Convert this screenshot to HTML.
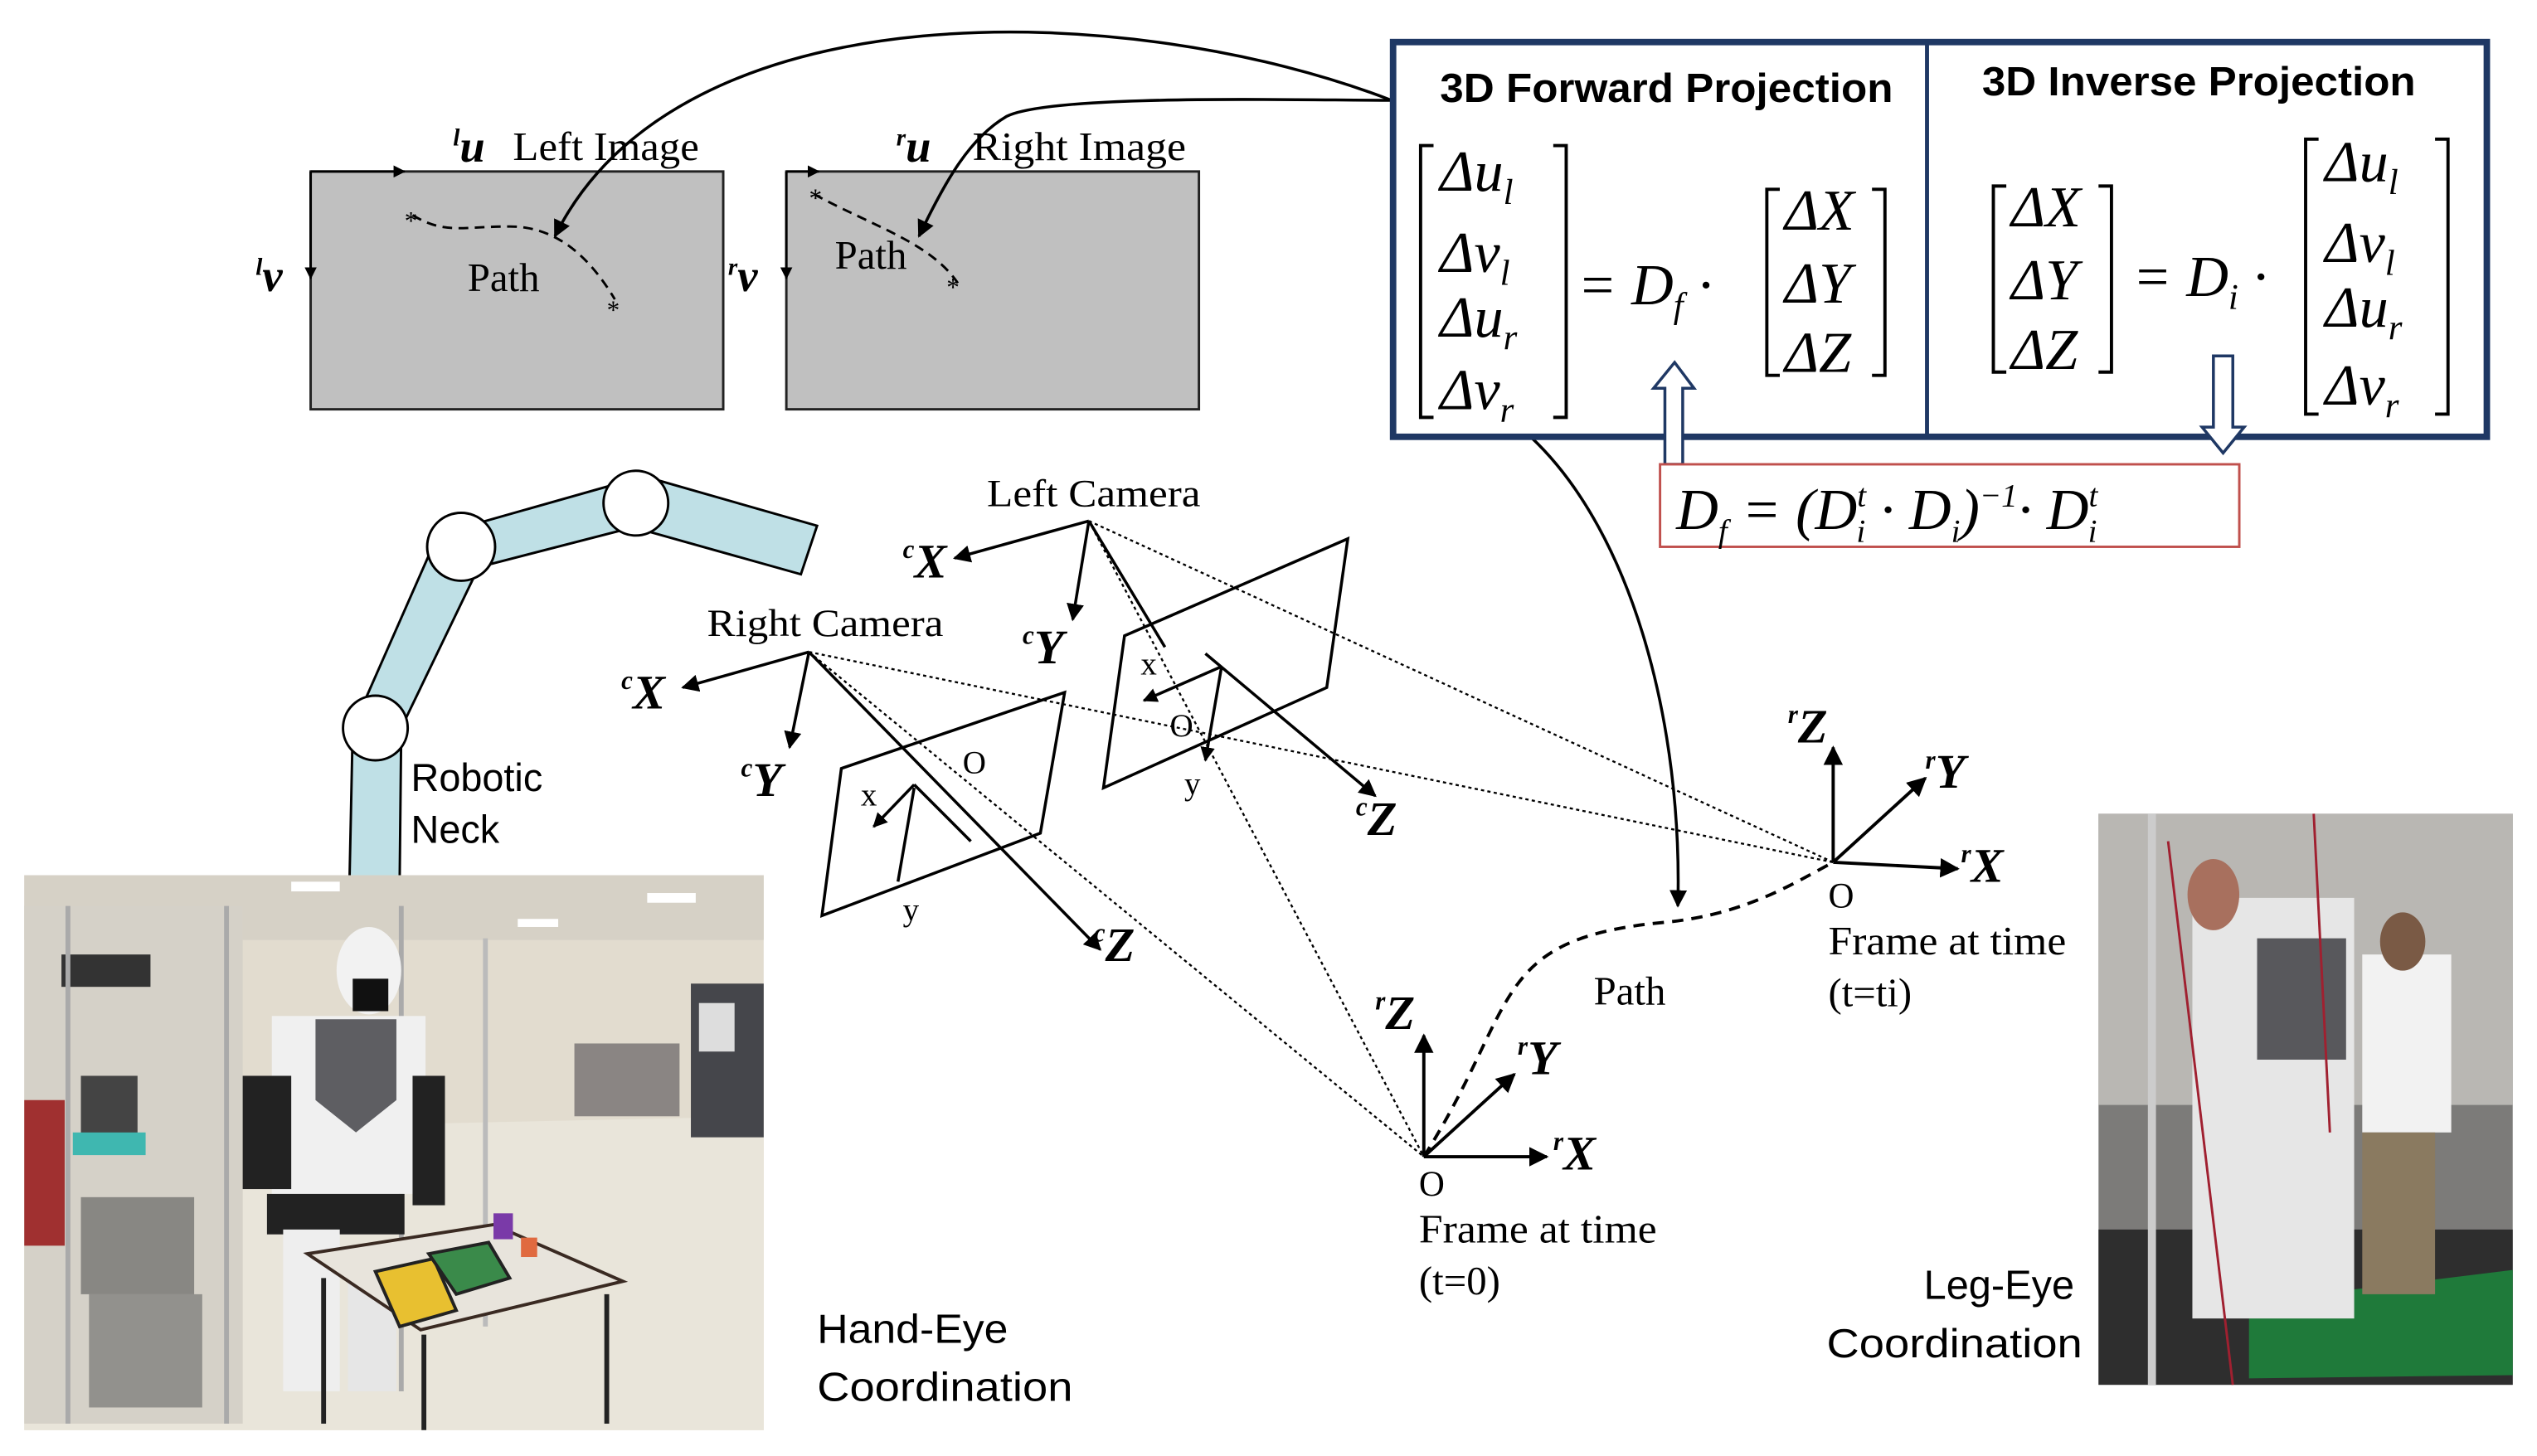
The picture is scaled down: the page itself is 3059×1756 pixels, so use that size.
<!DOCTYPE html>
<html><head><meta charset="utf-8"><style>
html,body{margin:0;padding:0;background:#fff;}
svg{display:block}
.tr{font-family:"Liberation Serif",serif;}
.sa{font-family:"Liberation Sans","DejaVu Sans",sans-serif;}
</style></head><body>
<svg width="3059" height="1756" viewBox="0 0 1568 900" preserveAspectRatio="none" xmlns="http://www.w3.org/2000/svg">
<defs>
<marker id="ah" viewBox="0 0 10 10" refX="9" refY="5" markerWidth="6" markerHeight="6" orient="auto"><path d="M0,0 L10,5 L0,10 z" fill="#000"/></marker>
<marker id="ah2" viewBox="0 0 10 10" refX="9" refY="5" markerWidth="5" markerHeight="5" orient="auto"><path d="M0,0 L10,5 L0,10 z" fill="#000"/></marker>
</defs>

<!-- image planes -->
<rect x="192" y="106" width="255" height="147" fill="#c0c0c0" stroke="#222" stroke-width="1.5"/>
<rect x="486" y="106" width="255" height="147" fill="#c0c0c0" stroke="#222" stroke-width="1.5"/>
<line x1="192" y1="106" x2="250" y2="106" stroke="#000" stroke-width="1.5" marker-end="url(#ah2)"/>
<line x1="192" y1="106" x2="192" y2="172" stroke="#000" stroke-width="1.5" marker-end="url(#ah2)"/>
<line x1="486" y1="106" x2="506" y2="106" stroke="#000" stroke-width="1.5" marker-end="url(#ah2)"/>
<line x1="486" y1="106" x2="486" y2="172" stroke="#000" stroke-width="1.5" marker-end="url(#ah2)"/>
<text class="tr" x="280" y="100" font-size="28" font-weight="bold" font-style="italic"><tspan font-size="15" dy="-10">l</tspan><tspan dy="10">u</tspan></text>
<text class="tr" x="317" y="99" font-size="25" textLength="115" lengthAdjust="spacingAndGlyphs">Left Image</text>
<text class="tr" x="554" y="100" font-size="28" font-weight="bold" font-style="italic"><tspan font-size="15" dy="-10">r</tspan><tspan dy="10">u</tspan></text>
<text class="tr" x="601" y="99" font-size="25" textLength="132" lengthAdjust="spacingAndGlyphs">Right Image</text>
<text class="tr" x="158" y="180" font-size="28" font-weight="bold" font-style="italic"><tspan font-size="15" dy="-10">l</tspan><tspan dy="10">v</tspan></text>
<text class="tr" x="450" y="180" font-size="28" font-weight="bold" font-style="italic"><tspan font-size="15" dy="-10">r</tspan><tspan dy="10">v</tspan></text>
<path d="M255,133 C275,145 285,140 315,140 C345,140 365,160 380,185" fill="none" stroke="#000" stroke-width="1.5" stroke-dasharray="6,4"/>
<text class="tr" x="250" y="142" font-size="16">*</text>
<text class="tr" x="375" y="197" font-size="16">*</text>
<text class="tr" x="289" y="180" font-size="25">Path</text>
<path d="M503,120 C540,140 575,150 592,175" fill="none" stroke="#000" stroke-width="1.5" stroke-dasharray="6,4"/>
<text class="tr" x="500" y="128" font-size="16">*</text>
<text class="tr" x="585" y="183" font-size="16">*</text>
<text class="tr" x="516" y="166" font-size="25">Path</text>

<!-- curves from box -->
<path d="M860,62 C700,0 420,-10 343,146" fill="none" stroke="#000" stroke-width="1.8" marker-end="url(#ah)"/>
<path d="M860,62 C800,62 650,58 622,72 C600,85 585,110 568,146" fill="none" stroke="#000" stroke-width="1.8" marker-end="url(#ah)"/>
<path d="M946,270 C1010,330 1040,450 1037,560" fill="none" stroke="#000" stroke-width="1.8" marker-end="url(#ah)"/>

<!-- equation box -->
<rect x="861" y="26" width="676" height="244" fill="#fff" stroke="#1f3864" stroke-width="4"/>
<line x1="1191" y1="26" x2="1191" y2="270" stroke="#1f3864" stroke-width="2.5"/>
<text class="sa" x="890" y="63" font-size="25" font-weight="bold" textLength="280" lengthAdjust="spacingAndGlyphs">3D Forward Projection</text>
<text class="sa" x="1225" y="59" font-size="25" font-weight="bold" textLength="268" lengthAdjust="spacingAndGlyphs">3D Inverse Projection</text>
<g font-family="Liberation Serif,serif" font-style="italic" font-size="36">
<path d="M886,90 h-8 v168 h8 M960,90 h8 v168 h-8" fill="none" stroke="#000" stroke-width="2"/>
<text x="890" y="118">Δu<tspan font-size="22" dy="8">l</tspan></text>
<text x="890" y="168">Δv<tspan font-size="22" dy="8">l</tspan></text>
<text x="890" y="208">Δu<tspan font-size="22" dy="8">r</tspan></text>
<text x="890" y="253">Δv<tspan font-size="22" dy="8">r</tspan></text>
<text x="975" y="188">= D<tspan font-size="22" dy="8">f</tspan><tspan dy="-8"> ·</tspan></text>
<path d="M1100,117 h-8 v115 h8 M1157,117 h8 v115 h-8" fill="none" stroke="#000" stroke-width="2"/>
<text x="1103" y="142">ΔX</text>
<text x="1103" y="187">ΔY</text>
<text x="1103" y="230">ΔZ</text>
<path d="M1240,115 h-8 v115 h8 M1297,115 h8 v115 h-8" fill="none" stroke="#000" stroke-width="2"/>
<text x="1243" y="140">ΔX</text>
<text x="1243" y="185">ΔY</text>
<text x="1243" y="228">ΔZ</text>
<text x="1318" y="183">= D<tspan font-size="22" dy="8">i</tspan><tspan dy="-8"> ·</tspan></text>
<path d="M1433,86 h-8 v170 h8 M1505,86 h8 v170 h-8" fill="none" stroke="#000" stroke-width="2"/>
<text x="1437" y="112">Δu<tspan font-size="22" dy="8">l</tspan></text>
<text x="1437" y="162">Δv<tspan font-size="22" dy="8">l</tspan></text>
<text x="1437" y="202">Δu<tspan font-size="22" dy="8">r</tspan></text>
<text x="1437" y="250">Δv<tspan font-size="22" dy="8">r</tspan></text>
</g>
<!-- hollow arrows -->
<path d="M1029,287 V240 H1022 L1035,224 L1047,240 H1040 V287 Z" fill="#fff" stroke="#1f3864" stroke-width="1.8"/>
<path d="M1368,220 V264 H1361 L1374,280 L1387,264 H1380 V220 Z" fill="#fff" stroke="#1f3864" stroke-width="1.8"/>
<rect x="1026" y="287" width="358" height="51" fill="#fff" stroke="#c0504d" stroke-width="1.5"/>
<text x="1036" y="327" font-family="Liberation Serif,serif" font-style="italic" font-size="36">D<tspan font-size="20" dy="8">f</tspan><tspan dy="-8"> = (D</tspan><tspan font-size="20" dy="-14">t</tspan><tspan font-size="20" dx="-6" dy="22">i</tspan><tspan dy="-8"> · D</tspan><tspan font-size="20" dy="8">i</tspan><tspan dy="-8">)</tspan><tspan font-size="20" dy="-14">−1</tspan><tspan dy="14">· D</tspan><tspan font-size="20" dy="-14">t</tspan><tspan font-size="20" dx="-6" dy="22">i</tspan></text>

<!-- robotic arm -->
<g fill="#bfe0e6" stroke="#000" stroke-width="1.5">
<polygon points="216,545 247,545 248,450 218,450"/>
<polygon points="218,450 247,452 300,342 270,332"/>
<polygon points="272,330 298,350 395,325 385,298"/>
<polygon points="400,295 388,325 495,355 505,325"/>
</g>
<g fill="#fff" stroke="#000" stroke-width="1.5">
<circle cx="232" cy="450" r="20"/><circle cx="285" cy="338" r="21"/><circle cx="393" cy="311" r="20"/>
</g>
<text class="sa" x="254" y="489" font-size="24">Robotic</text>
<text class="sa" x="254" y="521" font-size="24">Neck</text>

<!-- cameras -->
<g stroke="#000" stroke-width="1.8" fill="none">
<line x1="500" y1="403" x2="422" y2="425" marker-end="url(#ah)"/>
<line x1="500" y1="403" x2="488" y2="462" marker-end="url(#ah)"/>
<line x1="500" y1="403" x2="680" y2="587" marker-end="url(#ah)"/>
<line x1="673" y1="322" x2="590" y2="345" marker-end="url(#ah)"/>
<line x1="673" y1="322" x2="663" y2="383" marker-end="url(#ah)"/>
<line x1="673" y1="322" x2="720" y2="400"/>
<line x1="745" y1="404" x2="850" y2="492" marker-end="url(#ah)"/>
<polygon points="520,475 658,428 643,515 508,566"/>
<polygon points="695,393 833,333 820,425 682,487"/>
<polyline points="565,485 540,511" marker-end="url(#ah2)"/>
<polyline points="565,487 555,545"/>
<line x1="565" y1="485" x2="600" y2="520"/>
<polyline points="755,412 707,433" marker-end="url(#ah2)"/>
<line x1="755" y1="412" x2="745" y2="470" marker-end="url(#ah2)"/>
</g>
<g stroke="#000" stroke-width="1.2" stroke-dasharray="2,2" fill="none">
<line x1="500" y1="403" x2="1133" y2="533"/>
<line x1="500" y1="403" x2="880" y2="715"/>
<line x1="673" y1="322" x2="1133" y2="533"/>
<line x1="673" y1="322" x2="880" y2="715"/>
</g>
<g class="tr">
<text x="610" y="313" font-size="24" textLength="132" lengthAdjust="spacingAndGlyphs">Left Camera</text>
<text x="437" y="393" font-size="24" textLength="146" lengthAdjust="spacingAndGlyphs">Right Camera</text>
<text x="558" y="357" font-size="30" font-weight="bold" font-style="italic"><tspan font-size="16" dy="-12">c</tspan><tspan dy="12">X</tspan></text>
<text x="384" y="438" font-size="30" font-weight="bold" font-style="italic"><tspan font-size="16" dy="-12">c</tspan><tspan dy="12">X</tspan></text>
<text x="632" y="410" font-size="30" font-weight="bold" font-style="italic"><tspan font-size="16" dy="-12">c</tspan><tspan dy="12">Y</tspan></text>
<text x="458" y="492" font-size="30" font-weight="bold" font-style="italic"><tspan font-size="16" dy="-12">c</tspan><tspan dy="12">Y</tspan></text>
<text x="838" y="516" font-size="30" font-weight="bold" font-style="italic"><tspan font-size="16" dy="-12">c</tspan><tspan dy="12">Z</tspan></text>
<text x="676" y="594" font-size="30" font-weight="bold" font-style="italic"><tspan font-size="16" dy="-12">c</tspan><tspan dy="12">Z</tspan></text>
<text x="532" y="498" font-size="20">x</text><text x="558" y="569" font-size="20">y</text><text x="595" y="478" font-size="20">O</text>
<text x="705" y="417" font-size="20">x</text><text x="732" y="491" font-size="20">y</text><text x="723" y="455" font-size="20">O</text>
</g>

<!-- world frames -->
<g stroke="#000" stroke-width="2" fill="none">
<line x1="880" y1="715" x2="880" y2="640" marker-end="url(#ah)"/>
<line x1="880" y1="715" x2="936" y2="664" marker-end="url(#ah)"/>
<line x1="880" y1="715" x2="956" y2="715" marker-end="url(#ah)"/>
<line x1="1133" y1="533" x2="1133" y2="462" marker-end="url(#ah)"/>
<line x1="1133" y1="533" x2="1190" y2="481" marker-end="url(#ah)"/>
<line x1="1133" y1="533" x2="1210" y2="537" marker-end="url(#ah)"/>
<path d="M880,715 C940,620 920,580 1030,570 C1080,565 1110,545 1133,533" stroke-dasharray="7,5"/>
</g>
<g class="tr">
<text x="850" y="636" font-size="30" font-weight="bold" font-style="italic"><tspan font-size="16" dy="-12">r</tspan><tspan dy="12">Z</tspan></text>
<text x="938" y="664" font-size="30" font-weight="bold" font-style="italic"><tspan font-size="16" dy="-12">r</tspan><tspan dy="12">Y</tspan></text>
<text x="960" y="723" font-size="30" font-weight="bold" font-style="italic"><tspan font-size="16" dy="-12">r</tspan><tspan dy="12">X</tspan></text>
<text x="1105" y="459" font-size="30" font-weight="bold" font-style="italic"><tspan font-size="16" dy="-12">r</tspan><tspan dy="12">Z</tspan></text>
<text x="1190" y="487" font-size="30" font-weight="bold" font-style="italic"><tspan font-size="16" dy="-12">r</tspan><tspan dy="12">Y</tspan></text>
<text x="1212" y="545" font-size="30" font-weight="bold" font-style="italic"><tspan font-size="16" dy="-12">r</tspan><tspan dy="12">X</tspan></text>
<text x="877" y="739" font-size="22">O</text>
<text x="877" y="768" font-size="25" textLength="147" lengthAdjust="spacingAndGlyphs">Frame at time</text>
<text x="877" y="800" font-size="25">(t=0)</text>
<text x="1130" y="561" font-size="22">O</text>
<text x="1130" y="590" font-size="25" textLength="147" lengthAdjust="spacingAndGlyphs">Frame at time</text>
<text x="1130" y="622" font-size="25">(t=ti)</text>
<text x="985" y="621" font-size="25">Path</text>
</g>

<!-- left photo -->
<g>
<rect x="15" y="541" width="457" height="343" fill="#e2dccf"/>
<rect x="15" y="541" width="457" height="40" fill="#d6d1c6"/>
<rect x="180" y="545" width="30" height="6" fill="#fff"/><rect x="400" y="552" width="30" height="6" fill="#fff"/><rect x="320" y="568" width="25" height="5" fill="#fff"/>
<polygon points="15,700 472,690 472,884 15,884" fill="#e9e5da"/>
<rect x="15" y="560" width="135" height="320" fill="#d5d1c8"/>
<rect x="15" y="680" width="25" height="90" fill="#a03030"/>
<rect x="38" y="590" width="55" height="20" fill="#333"/>
<rect x="50" y="665" width="35" height="40" fill="#444"/>
<rect x="45" y="700" width="45" height="14" fill="#3fb7b0"/>
<rect x="50" y="740" width="70" height="60" fill="#555" opacity="0.6"/>
<rect x="55" y="800" width="70" height="70" fill="#666" opacity="0.6"/>
<line x1="42" y1="560" x2="42" y2="880" stroke="#aaa" stroke-width="3"/>
<line x1="140" y1="560" x2="140" y2="880" stroke="#aaa" stroke-width="3"/>
<line x1="248" y1="560" x2="248" y2="860" stroke="#aaa" stroke-width="3"/>
<line x1="300" y1="580" x2="300" y2="820" stroke="#bbb" stroke-width="3"/>
<rect x="355" y="645" width="65" height="45" fill="#8a8583"/>
<rect x="427" y="608" width="45" height="95" fill="#45464b"/>
<rect x="432" y="620" width="22" height="30" fill="#ddd"/>
<ellipse cx="228" cy="600" rx="20" ry="27" fill="#f2f2f2"/>
<path d="M218,605 h22 v20 h-22z" fill="#111"/>
<rect x="168" y="628" width="95" height="110" fill="#f0f0f0"/>
<path d="M195,630 h50 v50 l-25,20 l-25,-20z" fill="#5e5e62"/>
<rect x="150" y="665" width="30" height="70" fill="#222"/>
<rect x="255" y="665" width="20" height="80" fill="#222"/>
<rect x="165" y="738" width="85" height="25" fill="#222"/>
<rect x="175" y="760" width="35" height="100" fill="#eee"/>
<rect x="215" y="780" width="30" height="80" fill="#e6e6e6"/>
<polygon points="190,775 305,757 385,792 260,822" fill="#e8e4dc" stroke="#3a2a22" stroke-width="2"/>
<line x1="200" y1="790" x2="200" y2="880" stroke="#222" stroke-width="3"/>
<line x1="375" y1="800" x2="375" y2="880" stroke="#222" stroke-width="3"/>
<line x1="262" y1="825" x2="262" y2="884" stroke="#222" stroke-width="3"/>
<polygon points="232,786 268,778 282,810 247,820" fill="#e8c030" stroke="#222" stroke-width="2"/>
<polygon points="265,775 302,768 315,790 282,800" fill="#3a8a4a" stroke="#222" stroke-width="2"/>
<rect x="305" y="750" width="12" height="16" fill="#7a3aa8"/>
<rect x="322" y="765" width="10" height="12" fill="#e06a40"/>
</g>
<!-- right photo -->
<g>
<rect x="1297" y="503" width="256" height="353" fill="#7c7b79"/>
<rect x="1297" y="503" width="256" height="180" fill="#b9b7b3"/>
<rect x="1297" y="760" width="256" height="96" fill="#2e2e2e"/>
<polygon points="1390,805 1553,785 1553,850 1390,852" fill="#1f7a3a"/>
<rect x="1355" y="555" width="100" height="260" fill="#e6e6e6"/>
<rect x="1395" y="580" width="55" height="75" fill="#58585c"/>
<rect x="1460" y="590" width="55" height="110" fill="#f2f2f2"/>
<rect x="1460" y="700" width="45" height="100" fill="#8a7a60"/>
<ellipse cx="1368" cy="553" rx="16" ry="22" fill="#a8705e"/>
<ellipse cx="1485" cy="582" rx="14" ry="18" fill="#7a5a45"/>
<line x1="1330" y1="503" x2="1330" y2="856" stroke="#ccc" stroke-width="5"/>
<line x1="1340" y1="520" x2="1380" y2="856" stroke="#a02030" stroke-width="1.5"/>
<line x1="1430" y1="503" x2="1440" y2="700" stroke="#a02030" stroke-width="1.5"/>
</g>

<text class="sa" x="505" y="830" font-size="25" textLength="118" lengthAdjust="spacingAndGlyphs">Hand-Eye</text>
<text class="sa" x="505" y="866" font-size="25" textLength="158" lengthAdjust="spacingAndGlyphs">Coordination</text>
<text class="sa" x="1189" y="803" font-size="25" textLength="93" lengthAdjust="spacingAndGlyphs">Leg-Eye</text>
<text class="sa" x="1129" y="839" font-size="25" textLength="158" lengthAdjust="spacingAndGlyphs">Coordination</text>
</svg>
</body></html>
